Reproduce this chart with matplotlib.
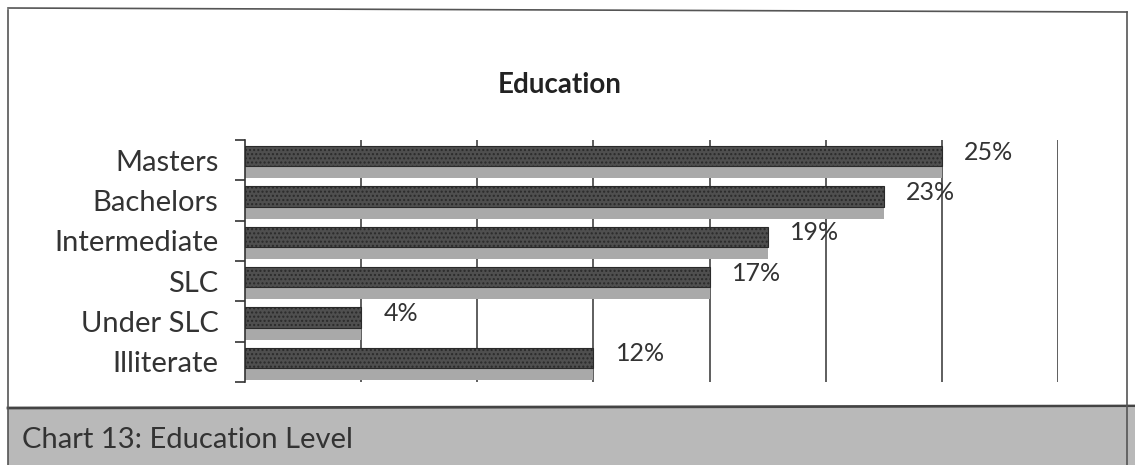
import matplotlib
matplotlib.use("Agg")
import matplotlib.pyplot as plt
from matplotlib.patches import Rectangle
from matplotlib.lines import Line2D

plt.rcParams['font.family'] = ['Lato', 'DejaVu Sans']

# ---- data ----
categories = ["Masters", "Bachelors", "Intermediate", "SLC", "Under SLC", "Illiterate"]
counts = [12, 11, 9, 8, 2, 6]
pct_labels = ["25%", "23%", "19%", "17%", "4%", "12%"]
x_max = 14
x_step = 2
title = "Education"
caption = "Chart 13: Education Level"

W, H = 1135, 465
fig = plt.figure(figsize=(W / 100, H / 100), dpi=100)
fig.patch.set_facecolor("white")

ax = fig.add_axes([245 / W, 1 - 382 / H, 813 / W, 242 / H])
ypos = list(range(len(categories)))

# shadow (lighter 3D side) and front face
ax.barh([y + 0.30 for y in ypos], counts, height=0.30, color="#a9a9a9",
        edgecolor="none", zorder=2)
ax.barh([y - 0.10 for y in ypos], counts, height=0.50, color="#4f4f4f",
        edgecolor="#2a2a2a", linewidth=0.8, hatch="....", zorder=3)

for y, c, lab in zip(ypos, counts, pct_labels):
    ax.annotate(lab, (c, y - 0.2), xytext=(16, 0), textcoords="offset points",
                ha="left", va="center", fontsize=18, color="#333333")

ax.set_xlim(0, x_max)
ax.set_ylim(len(categories) - 0.5, -0.5)
ax.set_xticks(range(x_step, x_max + 1, x_step))
ax.xaxis.grid(True, color="#333333", linewidth=1.1, zorder=1)
ax.tick_params(axis="x", length=0, labelbottom=False)
ax.set_yticks(ypos)
ax.set_yticklabels(categories, fontsize=21, color="#333333")
ax.tick_params(axis="y", length=0, pad=19)
# category boundary ticks
ax.set_yticks([y - 0.5 for y in range(len(categories) + 1)], minor=True)
ax.tick_params(axis="y", which="minor", length=7, width=1.2, color="#333333", direction="out")
for s in ["top", "right", "bottom"]:
    ax.spines[s].set_visible(False)
ax.spines["left"].set_color("#333333")
ax.spines["left"].set_linewidth(1.2)
ax.set_axisbelow(True)

fig.text(560 / W, 1 - 85 / H, title, ha="center", va="center",
         fontsize=20, fontweight="bold", color="#222222")

# caption band
fig.patches.append(Rectangle((8 / W, 0), (W - 8) / W, (H - 408) / H,
                             transform=fig.transFigure, facecolor="#b9b9b9",
                             edgecolor="none", zorder=0))
fig.lines.append(Line2D([8 / W, 1], [1 - 408 / H, 1 - 406 / H], transform=fig.transFigure,
                        color="#444444", linewidth=2))
fig.text(22 / W, 1 - 440 / H, caption, ha="left", va="center",
         fontsize=21, color="#333333")

# frame
fig.lines.append(Line2D([8 / W, 8 / W], [0, 1 - 10 / H], transform=fig.transFigure,
                        color="#555555", linewidth=1.2))
fig.lines.append(Line2D([8 / W, 1127 / W], [1 - 8 / H, 1 - 12 / H], transform=fig.transFigure,
                        color="#555555", linewidth=1.2))
fig.lines.append(Line2D([1127 / W, 1127 / W], [0, 1 - 12 / H], transform=fig.transFigure,
                        color="#555555", linewidth=1.2))

fig.savefig("out.png", dpi=100)
